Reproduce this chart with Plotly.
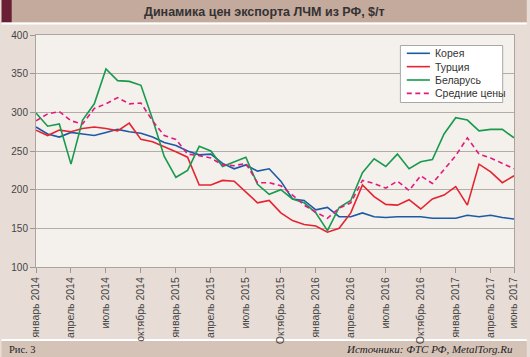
import plotly.graph_objects as go

months = ["2014-01","2014-02","2014-03","2014-04","2014-05","2014-06","2014-07","2014-08","2014-09","2014-10","2014-11","2014-12",
          "2015-01","2015-02","2015-03","2015-04","2015-05","2015-06","2015-07","2015-08","2015-09","2015-10","2015-11","2015-12",
          "2016-01","2016-02","2016-03","2016-04","2016-05","2016-06","2016-07","2016-08","2016-09","2016-10","2016-11","2016-12",
          "2017-01","2017-02","2017-03","2017-04","2017-05","2017-06"]

korea = [281,272,268,274,272,270,274,278,275,273,268,261,257,250,245,246,234,227,232,224,227,
         211,188,186,174,177,165,165,170,165,164,165,165,165,163,163,163,167,165,167,164,162]
turkey = [277,270,277,275,279,281,279,276,286,265,262,256,249,242,206,206,212,211,197,183,186,
          170,160,155,153,145,150,170,206,191,181,180,187,175,188,193,204,180,233,223,209,218]
belarus = [299,282,285,233,290,311,356,341,340,335,291,243,216,225,256,250,230,236,242,207,194,
           200,188,183,170,147,177,186,222,240,230,246,227,236,239,272,293,290,276,278,278,267]
average = [289,298,301,289,285,305,311,319,311,312,289,270,265,246,244,241,232,231,234,209,209,
           205,193,180,171,163,176,183,212,208,202,211,199,218,208,226,244,267,246,241,234,227]

tick_months = ["2014-01","2014-04","2014-07","2014-10","2015-01","2015-04","2015-07","2015-10",
               "2016-01","2016-04","2016-07","2016-10","2017-01","2017-04","2017-06"]
tick_labels = ["январь 2014","апрель 2014","июль 2014","октябрь 2014","январь 2015","апрель 2015",
               "июль 2015","Октябрь 2015","январь 2016","апрель 2016","июль 2016","Октябрь 2016",
               "январь 2017","апрель 2017","июнь 2017"]

series = [
    ("Корея", korea, "#1c5aa6", "solid"),
    ("Турция", turkey, "#e52431", "solid"),
    ("Беларусь", belarus, "#189a4c", "solid"),
    ("Средние цены", average, "#e21a7d", "5px,3.5px"),
]

fig = go.Figure()
for name, vals, color, dash in series:
    fig.add_trace(go.Scatter(x=months, y=vals, mode="lines", name=name,
                             line=dict(color=color, width=1.6, dash=dash)))

W, H = 530, 357
L, R, T, B = 33, 11, 35, 90
pw, ph = W - L - R, H - T - B
def px(x):
    return (x - L) / pw
def py(y):
    return (H - B - y) / ph

shapes = [
    dict(type="rect", xref="paper", yref="paper", x0=px(-2), x1=px(W + 2), y0=py(22.5), y1=py(-2),
         fillcolor="#c4a99d", line=dict(width=0), layer="below"),
    dict(type="rect", xref="paper", yref="paper", x0=px(-2), x1=px(8.3), y0=py(22.5), y1=py(-2),
         fillcolor="#6a1e36", line=dict(width=0), layer="below"),
    dict(type="rect", xref="paper", yref="paper", x0=px(-2), x1=px(W + 2), y0=py(24.5), y1=py(22.5),
         fillcolor="#ffffff", line=dict(width=0), layer="below"),
    dict(type="rect", xref="paper", yref="paper", x0=px(-2), x1=px(W + 2), y0=py(341), y1=py(339),
         fillcolor="#ffffff", line=dict(width=0), layer="below"),
    dict(type="rect", xref="paper", yref="paper", x0=px(-2), x1=px(W + 2), y0=py(359), y1=py(341),
         fillcolor="#d6c3b8", line=dict(width=0), layer="below"),
    # legend box
    dict(type="rect", xref="paper", yref="paper", x0=px(403.5), x1=px(507.5), y0=py(102.5), y1=py(45.5),
         fillcolor="#ffffff", line=dict(color="#a8a8a8", width=1), layer="above"),
]

annotations = [
    dict(text="<b>Динамика цен экспорта ЛЧМ из РФ, $/т</b>", xref="paper", yref="paper",
         x=px(265), y=py(11.5), xanchor="center", yanchor="middle", showarrow=False,
         font=dict(family="Liberation Sans, Arial, sans-serif", size=12.5, color="#333333")),
    dict(text="Рис. 3", xref="paper", yref="paper", x=px(4), y=py(349), xanchor="left",
         yanchor="middle", showarrow=False,
         font=dict(family="Liberation Serif, Times New Roman, serif", size=10.5, color="#222222")),
    dict(text="<i>Источники: ФТС РФ, MetalTorg.Ru</i>", xref="paper", yref="paper", x=px(520),
         y=py(349), xanchor="right", yanchor="middle", showarrow=False,
         font=dict(family="Liberation Serif, Times New Roman, serif", size=11, color="#222222")),
]

# custom compact legend (keys and labels)
for i, (name, vals, color, dash) in enumerate(series):
    yy = 53.3 + i * 13.35
    shapes.append(dict(type="line", xref="paper", yref="paper", x0=px(410), x1=px(433.5),
                       y0=py(yy), y1=py(yy), line=dict(color=color, width=1.6, dash=dash),
                       layer="above"))
    annotations.append(dict(text=name, xref="paper", yref="paper", x=px(437), y=py(yy),
                            xanchor="left", yanchor="middle", showarrow=False,
                            font=dict(family="Liberation Sans, Arial, sans-serif", size=10.5,
                                      color="#333333")))

fig.update_layout(
    width=W, height=H,
    margin=dict(l=L, r=R, t=T, b=B, pad=0),
    paper_bgcolor="#e8ddd6",
    plot_bgcolor="#f4f0ec",
    shapes=shapes,
    annotations=annotations,
    showlegend=False,
    font=dict(family="Liberation Sans, Arial, sans-serif", size=10, color="#444444"),
)

fig.update_xaxes(
    type="category", categoryorder="array", categoryarray=months,
    range=[0, len(months) - 1],
    tickmode="array", tickvals=tick_months, ticktext=tick_labels,
    tickangle=-90, ticks="outside", ticklen=5, tickcolor="#999999",
    showgrid=False, showline=True, linecolor="#aaa39e", mirror=True,
    tickfont=dict(size=10.5, color="#444444"), zeroline=False,
)
fig.update_yaxes(
    range=[100, 400], tickmode="linear", tick0=100, dtick=50,
    ticks="outside", ticklen=5, tickcolor="#999999",
    showgrid=True, gridcolor="#b3aca7", gridwidth=1,
    showline=True, linecolor="#aaa39e", mirror=True, zeroline=False,
    tickfont=dict(size=10, color="#444444"),
)

fig.write_html("out.html", config={"displayModeBar": False},
               post_script="document.body.style.margin='0';document.body.style.overflow='hidden';")
